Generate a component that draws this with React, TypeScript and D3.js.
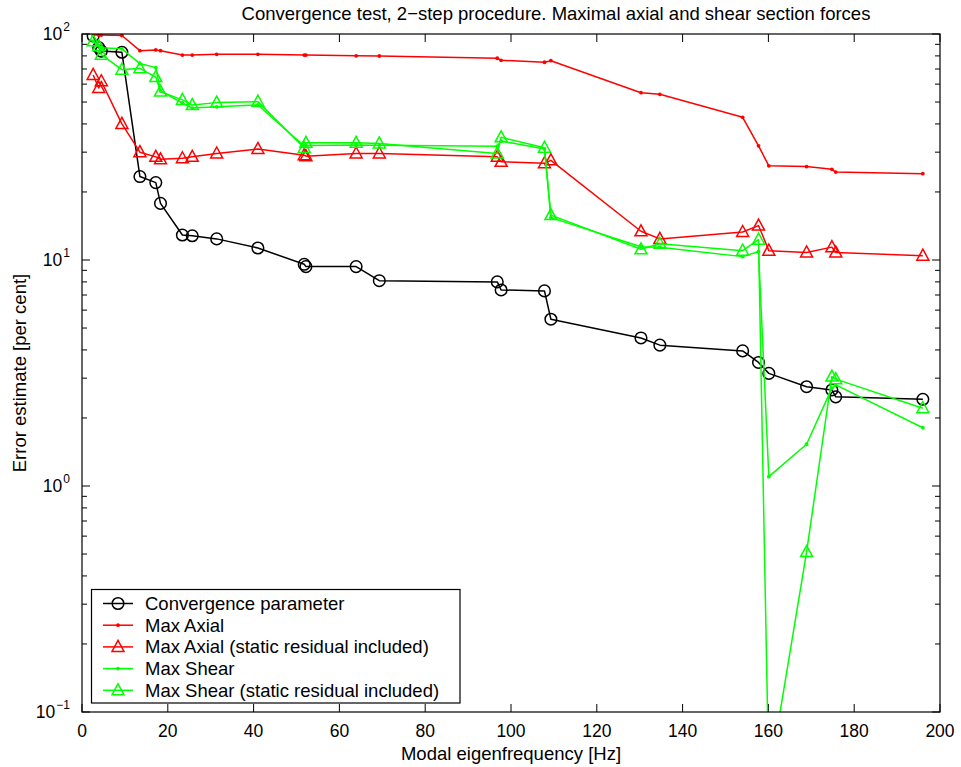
import React from 'react';
import * as d3 from 'd3';

// Modal eigenfrequencies [Hz] shared by every series
const freqs = [2.6, 3.9, 4.5, 9.3, 13.5, 17.2, 18.3, 23.4, 25.7, 31.4, 41.0, 51.8, 52.2, 63.9, 69.3, 96.8, 97.7, 107.8, 109.3, 130.3, 134.7, 154.0, 157.7, 160.1, 168.9, 174.8, 175.7, 196.0];

// Error estimates [per cent]
const convergence = [98, 87, 84, 83, 23.4, 22, 17.8, 12.9, 12.8, 12.4, 11.3, 9.57, 9.35, 9.35, 8.1, 8.0, 7.37, 7.3, 5.47, 4.52, 4.2, 3.96, 3.52, 3.15, 2.75, 2.66, 2.48, 2.42];
const maxAxial = [99, 99, 99, 98.5, 84.4, 85, 84.4, 80.7, 80.7, 81.3, 81.3, 80.7, 80.7, 80.1, 79.9, 78.1, 76.5, 75.0, 76.2, 55.0, 54.1, 42.8, 32.0, 26.1, 25.9, 25.2, 24.5, 24.1];
const maxAxialStatic = [65.9, 57.7, 61.8, 40.0, 30.0, 28.6, 27.9, 28.2, 28.6, 29.6, 31.0, 29.1, 28.8, 29.6, 29.6, 28.6, 27.2, 26.8, 27.6, 13.4, 12.4, 13.3, 14.2, 11.0, 10.8, 11.4, 10.8, 10.45];
const maxShear = [93, 89, 87, 86, 74, 71, 56, 49.5, 47, 47.6, 48.5, 31.9, 32.1, 32.3, 32.2, 31.9, 33.6, 31.0, 15.4, 11.45, 11.4, 10.35, 10.9, 1.10, 1.53, 2.71, 2.8, 1.81];
const maxShearStatic = [92.8, 88.2, 81, 69.5, 70.5, 64.5, 55.6, 51.1, 48.5, 49.7, 50.2, 31.3, 33, 33.0, 32.8, 29.6, 34.9, 31.4, 15.8, 11.15, 11.8, 11.0, 12.3, 0.05, 0.51, 3.05, 2.97, 2.21];

const xTicks = [0, 20, 40, 60, 80, 100, 120, 140, 160, 180, 200];
const yDecades = [0.1, 1, 10, 100];
const yExponents = ['−1', '0', '1', '2'];

const titleText = 'Convergence test, 2−step procedure. Maximal axial and shear section forces';
const xLabel = 'Modal eigenfrequency [Hz]';
const yLabel = 'Error estimate [per cent]';
const legendLabels = [
  'Convergence parameter',
  'Max Axial',
  'Max Axial (static residual included)',
  'Max Shear',
  'Max Shear (static residual included)',
];

type Marker = 'circle' | 'dot' | 'triangle';
interface Series { values: number[]; color: string; marker: Marker; label: string; }

const series: Series[] = [
  { values: convergence, color: '#000000', marker: 'circle', label: legendLabels[0] },
  { values: maxAxial, color: '#ff0000', marker: 'dot', label: legendLabels[1] },
  { values: maxAxialStatic, color: '#ff0000', marker: 'triangle', label: legendLabels[2] },
  { values: maxShear, color: '#00ff00', marker: 'dot', label: legendLabels[3] },
  { values: maxShearStatic, color: '#00ff00', marker: 'triangle', label: legendLabels[4] },
];

const W = 961;
const H = 767;
const left = 82, right = 940, top = 34, bottom = 712;
const FONT = '"Liberation Sans", Arial, Helvetica, sans-serif';

const x = d3.scaleLinear().domain([0, 200]).range([left, right]);
const y = d3.scaleLog().domain([0.1, 100]).range([bottom, top]);

const trianglePath = 'M0,-6.5L6,4.5L-6,4.5Z';

function MarkerShape({ kind, cx, cy, color }: { kind: Marker; cx: number; cy: number; color: string }) {
  if (kind === 'circle') {
    return <circle cx={cx} cy={cy} r={5.8} fill="none" stroke={color} strokeWidth={1.5} />;
  }
  if (kind === 'dot') {
    return <circle cx={cx} cy={cy} r={1.9} fill={color} stroke="none" />;
  }
  return <path d={trianglePath} transform={`translate(${cx},${cy})`} fill="none" stroke={color} strokeWidth={1.5} strokeLinejoin="miter" />;
}

export default function App() {
  const line = d3.line<number>().x((_, i) => x(freqs[i])).y((v) => y(v));

  const minorTicks: number[] = [];
  for (let d = 0; d < 3; d++) {
    for (let k = 2; k <= 9; k++) minorTicks.push(yDecades[d] * k);
  }

  const legendX = 91.5, legendY = 589.5, legendW = 368.5, legendH = 113.5;
  const rowY = (i: number) => 603.5 + i * 21.7;

  return (
    <svg width={W} height={H} style={{ position: 'absolute', left: 0, top: 0, background: '#fff' }} fontFamily={FONT}>
      <rect x={0} y={0} width={W} height={H} fill="#fff" />
      <defs>
        <clipPath id="plotArea">
          <rect x={left} y={top} width={right - left} height={bottom - top} />
        </clipPath>
      </defs>

      {/* ticks, inward on all four sides */}
      <g stroke="#000" strokeWidth={1}>
        {xTicks.map((t) => (
          <g key={`xt${t}`}>
            <line x1={x(t)} x2={x(t)} y1={bottom} y2={bottom - 8} />
            <line x1={x(t)} x2={x(t)} y1={top} y2={top + 8} />
          </g>
        ))}
        {yDecades.map((t) => (
          <g key={`yt${t}`}>
            <line x1={left} x2={left + 8} y1={y(t)} y2={y(t)} />
            <line x1={right} x2={right - 8} y1={y(t)} y2={y(t)} />
          </g>
        ))}
        {minorTicks.map((t) => (
          <g key={`ym${t}`}>
            <line x1={left} x2={left + 5} y1={y(t)} y2={y(t)} />
            <line x1={right} x2={right - 5} y1={y(t)} y2={y(t)} />
          </g>
        ))}
      </g>

      {/* data */}
      <g clipPath="url(#plotArea)">
        {series.map((s, si) => (
          <g key={`s${si}`}>
            <path d={line(s.values) || ''} fill="none" stroke={s.color} strokeWidth={1.5} strokeLinejoin="round" />
            {s.values.map((v, i) => (
              <MarkerShape key={i} kind={s.marker} cx={x(freqs[i])} cy={y(v)} color={s.color} />
            ))}
          </g>
        ))}
      </g>

      {/* axes box */}
      <rect x={left} y={top} width={right - left} height={bottom - top} fill="none" stroke="#000" strokeWidth={1.2} />

      {/* x tick labels */}
      <g fontSize={17.5} textAnchor="middle" fill="#000">
        {xTicks.map((t) => (
          <text key={`xl${t}`} x={x(t)} y={737}>{t}</text>
        ))}
      </g>

      {/* y tick labels */}
      <g fill="#000">
        {yDecades.map((t, i) => (
          <text key={`yl${t}`} x={70} y={y(t) + 6} fontSize={17.5} textAnchor="end">
            10
            <tspan fontSize={12} dx={1} dy={-9} textAnchor="start">{yExponents[i]}</tspan>
          </text>
        ))}
      </g>

      {/* title and axis labels */}
      <text x={556} y={20} fontSize={18.5} textAnchor="middle" fill="#000">{titleText}</text>
      <text x={(left + right) / 2} y={760} fontSize={18.5} textAnchor="middle" fill="#000">{xLabel}</text>
      <text transform={`translate(26,${(top + bottom) / 2}) rotate(-90)`} fontSize={18.5} textAnchor="middle" fill="#000">{yLabel}</text>

      {/* legend */}
      <g>
        <rect x={legendX} y={legendY} width={legendW} height={legendH} fill="#fff" stroke="#000" strokeWidth={1.2} />
        {series.map((s, i) => (
          <g key={`lg${i}`}>
            <line x1={103} x2={133} y1={rowY(i)} y2={rowY(i)} stroke={s.color} strokeWidth={1.5} />
            <MarkerShape kind={s.marker} cx={118} cy={rowY(i)} color={s.color} />
            <text x={145} y={rowY(i) + 6.5} fontSize={18.5} fill="#000">{s.label}</text>
          </g>
        ))}
      </g>
    </svg>
  );
}
